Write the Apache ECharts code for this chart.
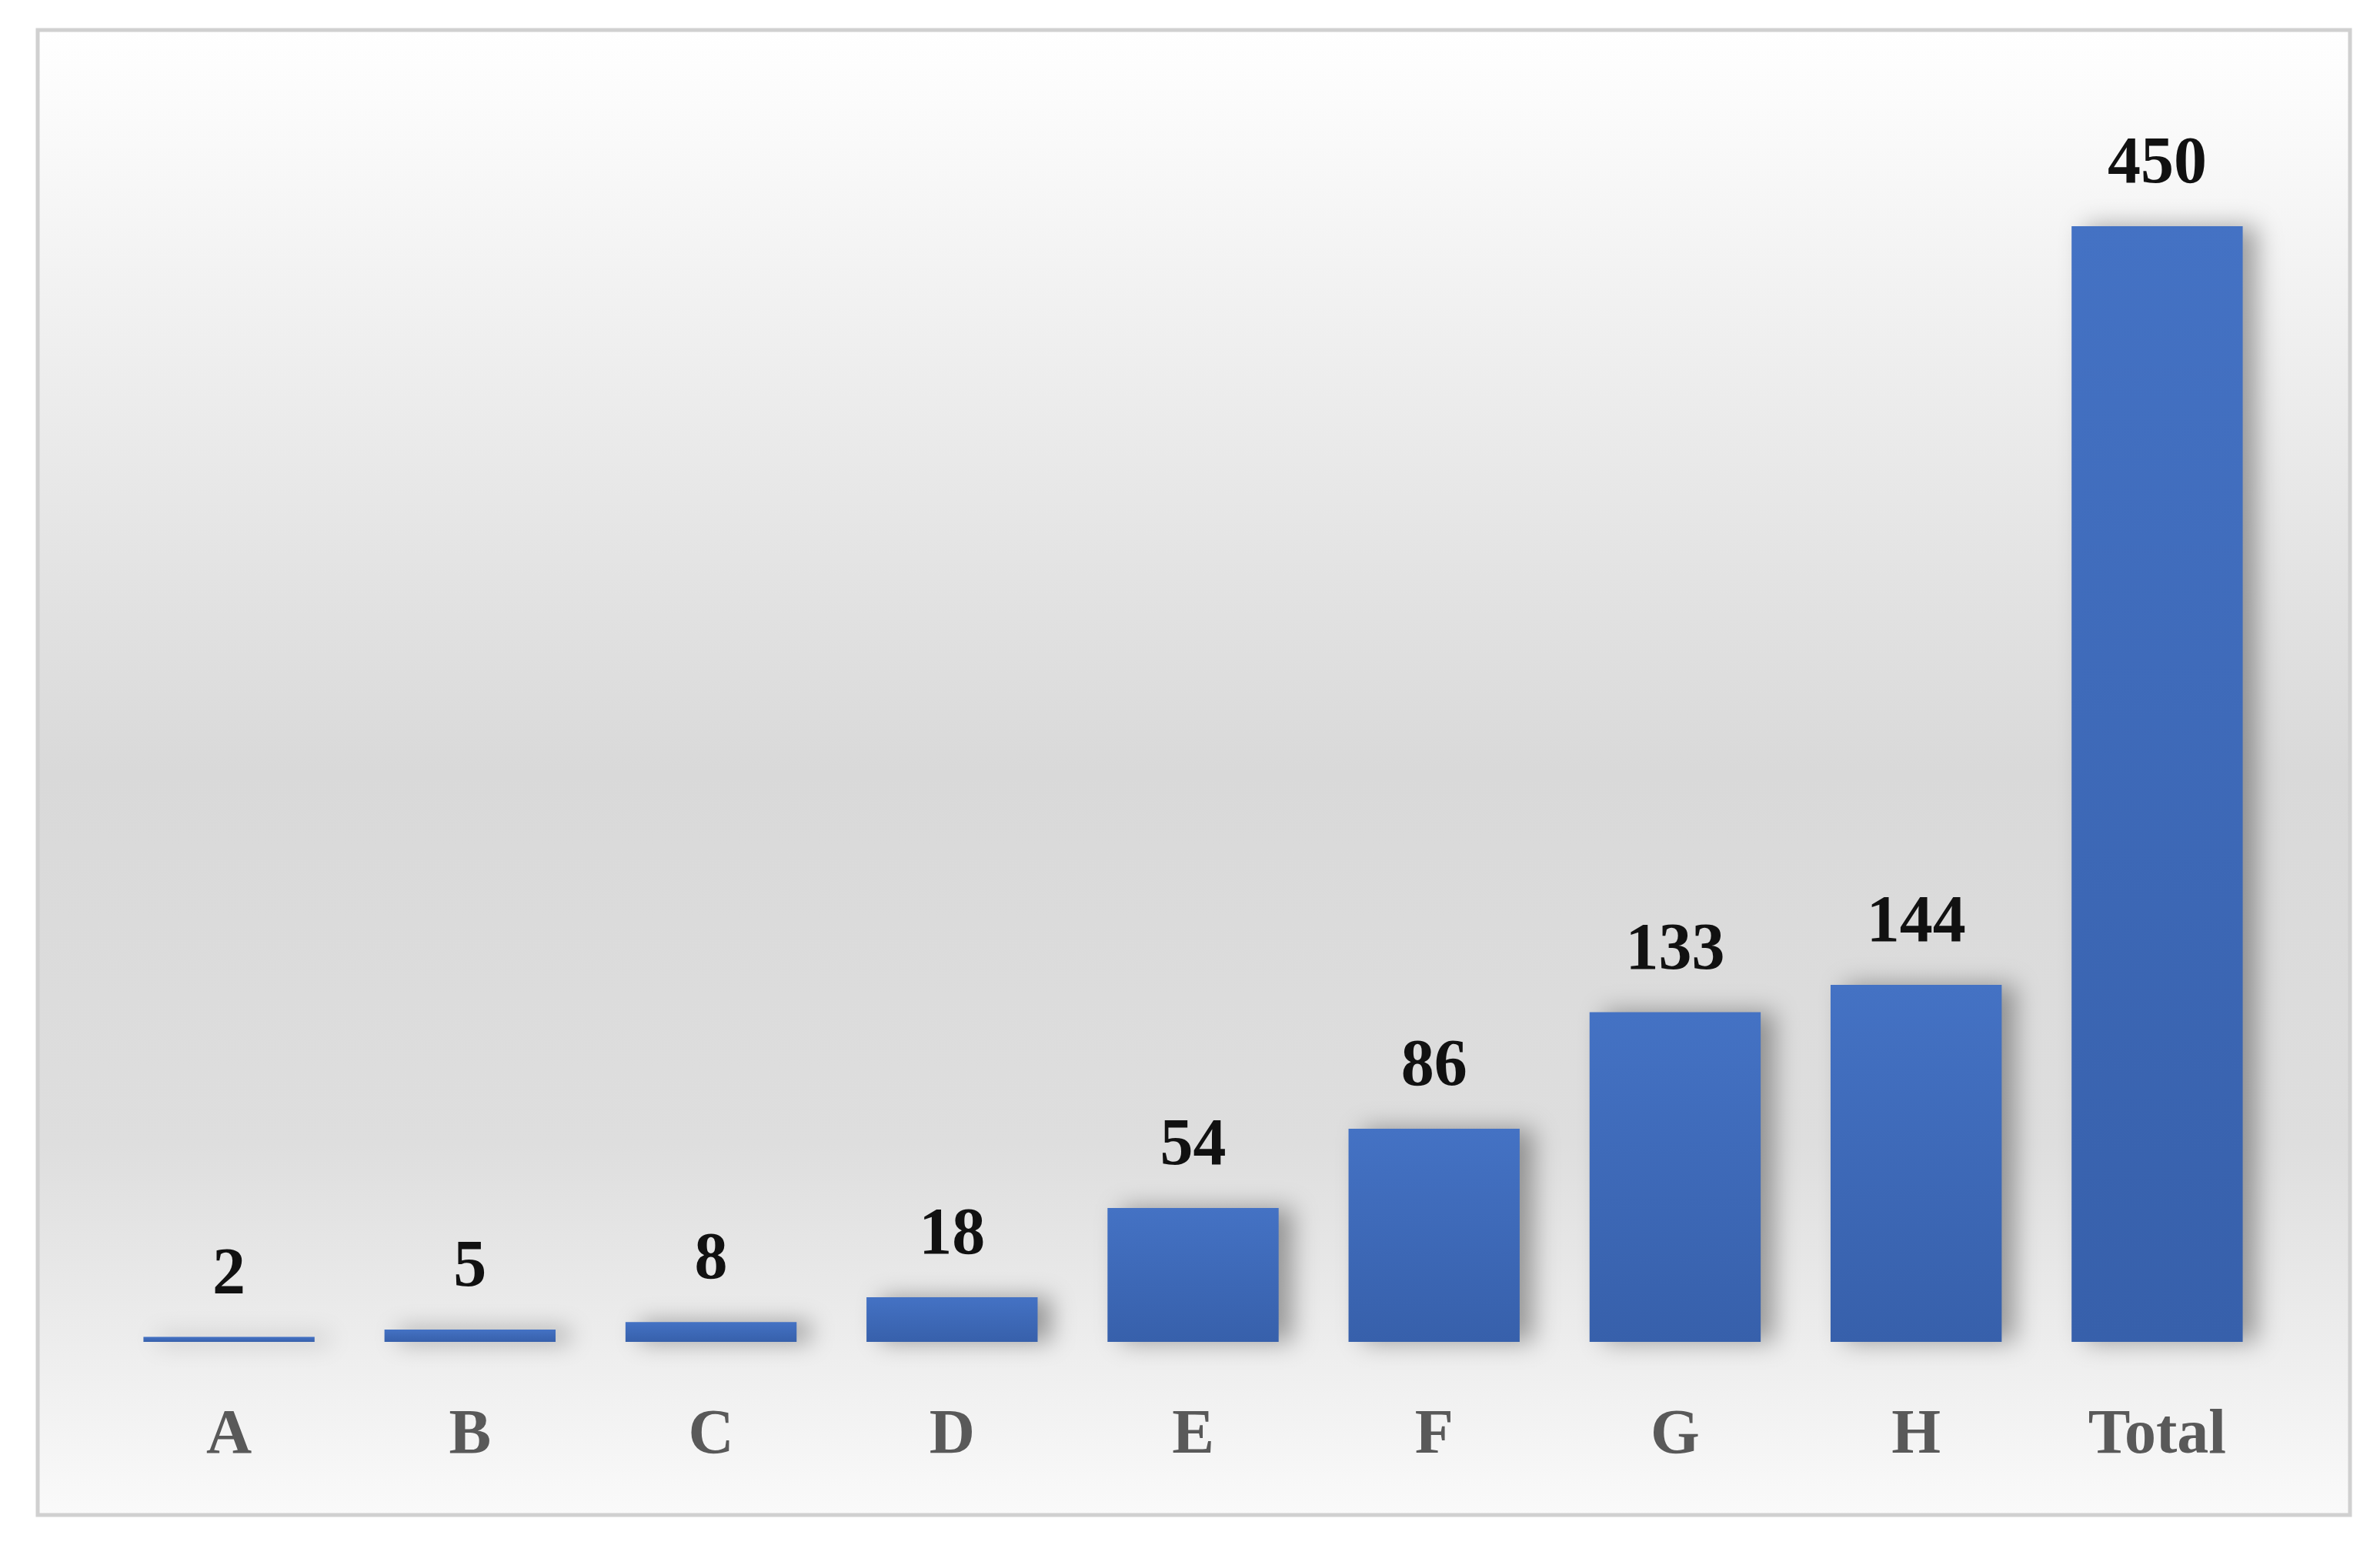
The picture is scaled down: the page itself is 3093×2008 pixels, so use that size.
<!DOCTYPE html>
<html>
<head>
<meta charset="utf-8">
<script src="https://cdn.jsdelivr.net/npm/echarts@6/dist/echarts.min.js"></script>
<style>html,body{margin:0;padding:0;background:#fff}#main{width:3093px;height:2008px}</style>
</head>
<body>
<div id="main"></div>
<script>
var categories = ['A', 'B', 'C', 'D', 'E', 'F', 'G', 'H', 'Total'];
var values = [2, 5, 8, 18, 54, 86, 133, 144, 450];

var chart = echarts.init(document.getElementById('main'));
var option = {
    backgroundColor: '#fff',
    graphic: [{
        type: 'rect',
        z: -10,
        shape: { x: 49, y: 39, width: 3005, height: 1930 },
        style: {
            stroke: '#d0d0d0',
            lineWidth: 5,
            fill: new echarts.graphic.LinearGradient(0, 0, 0, 1, [
                { offset: 0, color: '#ffffff' },
                { offset: 0.5, color: '#d9d9d9' },
                { offset: 0.75, color: '#dedede' },
                { offset: 1, color: '#fafafa' }
            ])
        }
    }],
    grid: { left: 141, right: 133, top: 294, bottom: 264, containLabel: false },
    xAxis: {
        type: 'category',
        data: categories,
        axisLine: { show: false },
        axisTick: { show: false },
        axisLabel: {
            margin: 82,
            color: '#595959',
            fontFamily: 'Liberation Serif',
            fontWeight: 'bold',
            fontSize: 82
        }
    },
    yAxis: {
        type: 'value',
        min: 0,
        max: 450,
        show: false,
        splitLine: { show: false }
    },
    series: [{
        type: 'bar',
        data: values,
        barWidth: '71%',
        itemStyle: {
            color: new echarts.graphic.LinearGradient(0, 0, 0, 1, [
                { offset: 0, color: '#4472c4' },
                { offset: 1, color: '#3760ab' }
            ]),
            shadowColor: 'rgba(0,0,0,0.35)',
            shadowBlur: 30,
            shadowOffsetX: 18
        },
        label: {
            show: true,
            position: 'top',
            distance: 36,
            color: '#111',
            fontFamily: 'Liberation Serif',
            fontWeight: 'bold',
            fontSize: 86
        }
    }]
};
chart.setOption(option);
</script>
</body>
</html>
